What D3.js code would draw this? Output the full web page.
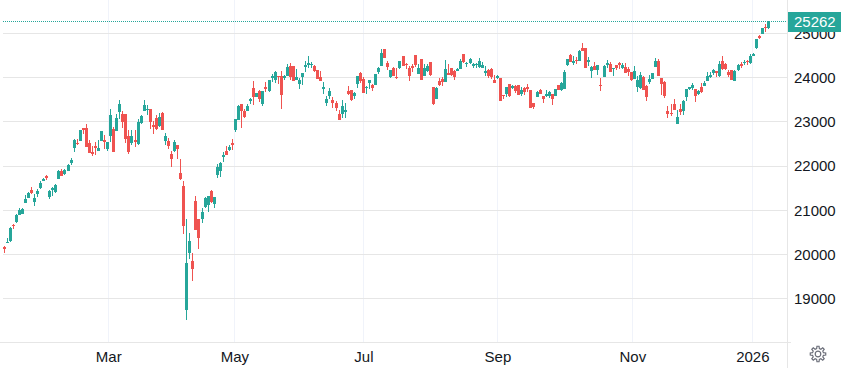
<!DOCTYPE html>
<html>
<head>
<meta charset="utf-8">
<script src="https://cdn.jsdelivr.net/npm/d3@7"></script>
<style>
  html, body { margin: 0; padding: 0; background: #fff; overflow: hidden; }
  svg { display: block; }
  text { font-family: "Liberation Sans", Arial, sans-serif; font-size: 15px; fill: #131722; }
</style>
</head>
<body>
<div id="chart"></div>
<script>
// Daily candles
const opens = [
  20165,20263,20309,20678,20738,20897,20919,21168,21281,21470,
  21191,21372,21500,21666,21771,21296,21462,21417,21711,21899,
  21817,21892,22065,22412,22533,22571,22857,22872,22518,22329,
  22465,22344,22571,22586,22382,22684,22850,22797,23219,23189,
  23174,22676,22526,22586,22503,22978,23250,23272,23302,22933,
  23084,22903,23197,22563,22563,22269,22337,22488,21840,21545,
  18741,20030,19849,21206,20799,20799,21070,21116,21432,21138,
  21794,21885,22201,22337,22360,22518,22812,23038,23400,23257,
  23242,23468,23762,23559,23694,23400,23785,23694,23996,23943,
  24034,24034,23996,24034,24260,24260,23943,23853,24019,24237,
  24282,24282,24260,24169,24011,23740,23423,23581,23491,23423,
  23174,23174,23219,23694,23717,23581,23853,24102,23966,23762,
  23875,23830,23838,24124,24260,24644,24328,24011,24215,24011,
  24215,24486,24313,24215,24260,24509,24079,24418,24034,24147,
  24350,23785,23513,23921,23966,23898,24102,24215,24147,24147,
  24192,24531,24305,24328,24260,24282,24237,24215,24102,24169,
  24192,23943,23988,23988,23604,23627,23853,23762,23807,23830,
  23627,23762,23785,23717,23423,23559,23717,23581,23581,23581,
  23627,23581,23830,23717,23740,24282,24509,24328,24396,24374,
  24668,24668,24351,24148,24261,24170,23831,24012,24283,24306,
  24193,24283,24329,24216,24238,24193,24125,23967,23786,23763,
  24012,23808,23899,23967,24238,24374,23989,23899,23243,23198,
  23401,22949,23288,23243,23560,23740,23763,23740,23627,23785,
  23808,23921,24011,24102,24147,24034,24373,24305,24124,24170,
  23921,24170,24305,24328,24373,24328,24486,24667,24939,24992,
  25142,25120
];
const closes = [
  20120,20278,20595,20640,20904,21002,21040,21266,21402,21387,
  21289,21432,21628,21718,21726,21432,21515,21583,21899,21779,
  21922,22035,22148,22601,22495,22812,22827,22435,22299,22269,
  22405,22420,22789,22540,22548,23151,22322,23084,23415,23001,
  22609,22315,22676,22541,22993,23144,23378,23287,23001,22888,
  22842,23106,22812,22676,22450,22156,22541,22382,21704,20641,
  19804,20301,19668,20550,20369,20957,21274,21319,21184,21297,
  21975,22066,22247,22247,22428,22473,23076,23355,23257,23106,
  23355,23513,23559,23649,23513,23694,23740,23943,24041,24124,
  24019,23604,24034,24237,24019,23928,24011,23943,24102,24282,
  24328,24305,24147,23966,23921,23785,23513,23694,23423,23310,
  23038,23355,23265,23627,23491,23649,24034,23921,23649,23785,
  23943,23762,24079,24215,24554,24441,24237,24169,24034,23988,
  24373,24260,24290,24034,24222,24282,24215,23943,24215,24260,
  24056,23400,23762,23830,23898,24192,24071,24056,24011,24192,
  24373,24350,24335,24418,24305,24305,24373,24282,24147,24034,
  24011,23875,24034,23468,23589,23785,23581,23807,23694,23604,
  23717,23672,23740,23310,23332,23672,23627,23513,23627,23672,
  23513,23740,23717,23875,24124,24418,24350,24374,24374,24600,
  24600,24216,24396,24238,24170,24283,23808,24261,24329,24125,
  24216,24216,24283,24283,24102,24125,23944,24148,23944,24057,
  23718,23560,23967,24102,24374,24035,23854,23582,23175,23175,
  23265,23107,23220,23469,23741,23785,23830,23582,23695,23672,
  23876,24034,24057,24170,24117,24305,24192,24192,24057,23943,
  24147,24283,24260,24351,24351,24486,24532,24871,24894,25120,
  25120,25262
];
const highs = [
  20188,20369,20625,20686,20927,21063,21047,21341,21417,21522,
  21364,21492,21673,21741,21809,21455,21522,21590,21922,21945,
  21937,22050,22194,22623,22608,22812,22872,22948,22586,22450,
  22540,22601,22789,22699,22555,23302,22888,23174,23491,23242,
  23174,22827,22812,22812,23061,23151,23491,23378,23302,23016,
  23151,23197,23219,22744,22631,22337,22586,22488,22156,21659,
  20799,20482,20030,21319,20799,21048,21297,21319,21455,21304,
  22043,22088,22315,22450,22473,22609,23076,23378,23400,23302,
  23415,23551,23921,23649,23717,23694,23898,23943,24079,24147,
  24034,24147,24056,24305,24328,24260,24192,23988,24102,24373,
  24486,24350,24282,24169,24147,23898,23581,23762,23559,23468,
  23265,23491,23423,23807,23717,23672,24034,24124,24011,23807,
  23943,23853,24079,24237,24644,24644,24373,24169,24237,24215,
  24373,24486,24328,24260,24305,24509,24305,24418,24305,24305,
  24350,23785,23785,23988,24011,24396,24305,24215,24169,24215,
  24418,24531,24350,24441,24328,24328,24441,24350,24260,24192,
  24215,24056,24056,23988,23604,23785,23853,23830,23830,23830,
  23785,23785,23853,23717,23423,23694,23740,23581,23717,23694,
  23627,23740,23830,23898,24169,24418,24531,24486,24464,24623,
  24781,24668,24464,24261,24351,24283,23989,24283,24396,24351,
  24216,24283,24351,24329,24329,24238,24125,24261,24035,24125,
  24035,23831,24057,24102,24442,24419,23989,23921,23356,23401,
  23514,23265,23401,23492,23741,23785,23876,23740,23717,23876,
  23921,24124,24124,24192,24147,24373,24486,24328,24170,24170,
  24170,24305,24351,24396,24396,24532,24554,24871,24961,25120,
  25210,25278
];
const lows = [
  20037,20256,20293,20587,20723,20889,20919,21161,21274,21364,
  21100,21304,21477,21658,21696,21251,21319,21394,21703,21771,
  21809,21884,22035,22322,22472,22563,22721,22435,22292,22231,
  22246,22337,22563,22382,22344,22548,22315,22797,23061,22865,
  22526,22277,22473,22428,22488,22963,23250,23151,22835,22722,
  22812,22888,22812,22473,22390,21975,22315,22156,21681,20460,
  18514,19894,19397,20550,20120,20709,21048,20957,21161,21048,
  21726,21749,22088,22247,22337,22360,22774,23038,22857,23099,
  23242,23415,23378,23559,23446,23355,23672,23672,23898,23875,
  23853,23287,23943,24034,23943,23921,23943,23740,23830,24124,
  24215,24215,24124,23966,23921,23627,23355,23513,23310,23242,
  23038,23084,23084,23604,23468,23513,23762,23875,23649,23627,
  23740,23694,23830,24079,24260,24441,24169,23988,24034,23966,
  24192,24260,24192,23921,24124,24237,24079,23943,24034,24124,
  24034,23378,23513,23807,23807,23898,24056,24034,23943,24147,
  24192,24328,24237,24305,24215,24215,24215,24215,24034,23988,
  23966,23875,23966,23468,23513,23559,23559,23740,23649,23604,
  23581,23604,23672,23310,23287,23559,23627,23423,23559,23536,
  23378,23581,23717,23694,23740,24260,24350,24283,24306,24374,
  24600,24216,24261,23989,24170,24057,23695,24012,24216,24125,
  24035,24170,24193,24193,24102,24035,23921,23967,23673,23741,
  23718,23469,23854,23967,24238,24035,23605,23537,23085,23130,
  23265,22949,23152,23152,23469,23717,23717,23446,23604,23649,
  23808,23921,23989,24057,24011,24011,24170,24170,24011,23943,
  23921,24147,24215,24283,24283,24305,24486,24645,24871,24984,
  25029,25097
];
const lastPrice = 25262;

// Axis ticks. Month starts sit at the bars where the grid lines were read
const yTicks = [19000, 20000, 21000, 22000, 23000, 24000, 25000];
const xTickBars = [34.2, 75.6, 118, 162, 206.3, 245.7];
const xTickLabels = ["Mar", "May", "Jul", "Sep", "Nov", "2026"];

const width = 841, height = 368;
const plotLeft = 3, plotRight = 787, plotBottom = 342;
const upColor = "#26a69a", downColor = "#ef5350";
const hGrid = "#e6e6e6", vGrid = "#f0f3fa";

const svg = d3.select("#chart")
  .append("svg")
    .attr("width", width)
    .attr("height", height);

const x = d3.scaleLinear().domain([0, opens.length - 1]).range([4.07, 768.5]);
const y = d3.scaleLinear().domain([20000, 25000]).range([254.5, 33.5]);

// Grid
const crisp = svg.append("g").attr("shape-rendering", "crispEdges");
crisp.selectAll(".vgrid")
  .data(xTickBars)
  .join("line")
    .attr("x1", d => Math.floor(x(d)) + 0.5)
    .attr("x2", d => Math.floor(x(d)) + 0.5)
    .attr("y1", 0)
    .attr("y2", plotBottom)
    .attr("stroke", vGrid);
crisp.selectAll(".hgrid")
  .data(yTicks)
  .join("line")
    .attr("x1", plotLeft)
    .attr("x2", plotRight)
    .attr("y1", d => Math.floor(y(d)) + 0.5)
    .attr("y2", d => Math.floor(y(d)) + 0.5)
    .attr("stroke", hGrid);

// Chart frame on the axis sides
crisp.append("line")
  .attr("x1", plotRight + 0.5).attr("x2", plotRight + 0.5)
  .attr("y1", 0).attr("y2", height)
  .attr("stroke", hGrid);
crisp.append("line")
  .attr("x1", 0).attr("x2", plotRight + 4)
  .attr("y1", plotBottom + 0.5).attr("y2", plotBottom + 0.5)
  .attr("stroke", hGrid);

// Candles
const candles = svg.append("g").attr("shape-rendering", "crispEdges");
const bars = candles.selectAll("g")
  .data(d3.range(opens.length))
  .join("g")
    .attr("fill", i => closes[i] >= opens[i] ? upColor : downColor);
bars.append("rect")
  .attr("x", i => Math.floor(x(i)))
  .attr("y", i => Math.round(y(highs[i])))
  .attr("width", 1)
  .attr("height", i => Math.max(1, Math.round(y(lows[i])) - Math.round(y(highs[i]))));
bars.append("rect")
  .attr("x", i => Math.floor(x(i)) - 1)
  .attr("y", i => Math.round(y(Math.max(opens[i], closes[i]))))
  .attr("width", 3)
  .attr("height", i => Math.max(1, Math.round(y(Math.min(opens[i], closes[i]))) - Math.round(y(Math.max(opens[i], closes[i])))));

// Price axis
const yAxis = svg.append("g")
  .attr("transform", `translate(${plotRight},0)`)
  .call(d3.axisRight(y).tickValues(yTicks).tickSize(0).tickPadding(7).tickFormat(d3.format("d")));
yAxis.select(".domain").remove();

// Time axis
const xAxis = svg.append("g")
  .attr("transform", `translate(0,${plotBottom + 1})`)
  .call(d3.axisBottom(x).tickValues(xTickBars).tickSize(0).tickPadding(8)
    .tickFormat((d, i) => xTickLabels[i]));
xAxis.select(".domain").remove();
svg.selectAll("text").style("font-family", "'Liberation Sans', Arial, sans-serif").style("font-size", "15px").style("fill", "#131722");

// Last price line and label
const lastY = Math.floor(y(lastPrice)) + 0.5;
svg.append("line")
  .attr("x1", plotLeft)
  .attr("x2", plotRight)
  .attr("y1", lastY)
  .attr("y2", lastY)
  .attr("stroke", upColor)
  .attr("stroke-dasharray", "1,1")
  .attr("shape-rendering", "crispEdges");
svg.append("rect")
  .attr("x", plotRight + 1)
  .attr("y", lastY - 9.5)
  .attr("width", width - plotRight - 1)
  .attr("height", 20)
  .attr("fill", upColor);
svg.append("text")
  .attr("x", plotRight + 7)
  .attr("y", lastY + 0.5)
  .attr("dy", ".32em")
  .style("font-family", "'Liberation Sans', Arial, sans-serif")
  .style("font-size", "15px")
  .style("fill", "#fff")
  .text(d3.format("d")(lastPrice));

// Settings gear
const gear = d3.path();
const teeth = 8, rOut = 7.8, rIn = 5.6;
for (let t = 0; t < teeth; t++) {
  const a = t * 2 * Math.PI / teeth - Math.PI / 2;
  const w = Math.PI / teeth;
  const pts = [[rIn, a - w * 0.62], [rOut, a - w * 0.34], [rOut, a + w * 0.34], [rIn, a + w * 0.62]];
  pts.forEach((p, k) => {
    const px = p[0] * Math.cos(p[1]), py = p[0] * Math.sin(p[1]);
    if (t === 0 && k === 0) gear.moveTo(px, py); else gear.lineTo(px, py);
  });
}
gear.closePath();
const gearG = svg.append("g").attr("transform", "translate(818,354)");
gearG.append("path").attr("d", gear.toString()).attr("fill", "none").attr("stroke", "#6a6d78").attr("stroke-width", 1.2);
gearG.append("circle").attr("r", 2.8).attr("fill", "none").attr("stroke", "#6a6d78").attr("stroke-width", 1.2);
</script>
</body>
</html>
